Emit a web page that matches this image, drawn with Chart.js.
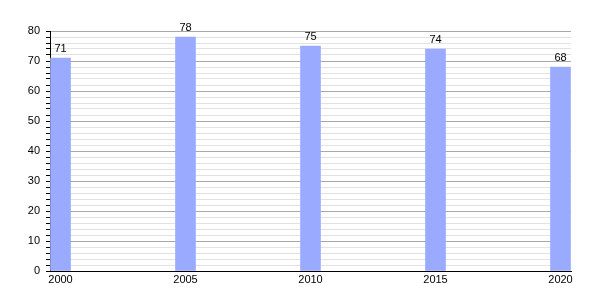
<!DOCTYPE html>
<html>
<head>
<meta charset="utf-8">
<script src="https://cdn.jsdelivr.net/npm/chart.js@4.4.0/dist/chart.umd.min.js"></script>
<style>
  html, body { margin: 0; padding: 0; background: #fff; }
  #wrap { width: 600px; height: 300px; }
</style>
</head>
<body>
<div id="wrap"><canvas id="chart"></canvas></div>
<script>
const years = [2000, 2005, 2010, 2015, 2020];
const values = [71, 78, 75, 74, 68];
const yTicks = [0, 10, 20, 30, 40, 50, 60, 70, 80];

const font = { family: "'Liberation Sans', Arial, sans-serif", size: 11 };

// value labels over each bar
const barLabels = {
  id: "barLabels",
  afterDatasetsDraw(chart) {
    const ctx = chart.ctx;
    const meta = chart.getDatasetMeta(0);
    ctx.save();
    ctx.font = `${font.size}px ${font.family}`;
    ctx.fillStyle = "#000";
    ctx.textAlign = "center";
    ctx.textBaseline = "bottom";
    meta.data.forEach((bar, i) => {
      ctx.fillText(String(values[i]), bar.x, bar.y - 4);
    });
    ctx.restore();
  },
};

new Chart(document.getElementById("chart"), {
  type: "bar",
  data: {
    datasets: [
      {
        data: years.map((y, i) => ({ x: y, y: values[i] })),
        backgroundColor: "#9aabff",
        borderWidth: 0,
        barThickness: 20,
      },
    ],
  },
  options: {
    responsive: true,
    maintainAspectRatio: false,
    animation: false,
    layout: { padding: { top: 31, right: 29, left: 0, bottom: 0 } },
    plugins: { legend: { display: false }, tooltip: { enabled: false } },
    scales: {
      x: {
        type: "linear",
        offset: false,
        min: 1999.58,
        max: 2020.42,
        afterBuildTicks: (axis) => {
          axis.ticks = years.map((v) => ({ value: v }));
        },
        afterFit: (axis) => {
          axis.height = 29;
        },
        ticks: {
          color: "#000",
          font,
          padding: 2,
          autoSkip: false,
          maxRotation: 0,
          callback: (v) => String(v),
        },
        grid: { display: false, drawTicks: false },
        border: { display: true, color: "#000", width: 1 },
      },
      y: {
        min: 0,
        max: 80,
        afterFit: (axis) => {
          axis.width = 50;
        },
        ticks: {
          stepSize: 2,
          maxTicksLimit: 60,
          autoSkip: false,
          color: "#000",
          font,
          padding: 6,
          callback: (v) => (yTicks.includes(v) ? String(v) : ""),
        },
        grid: {
          color: (c) => (c.tick && c.tick.value % 10 === 0 ? "#a8a8a8" : "#e2e2e2"),
          tickColor: "#000",
          tickLength: 4,
          lineWidth: 1,
        },
        border: { display: true, color: "#000", width: 1 },
      },
    },
  },
  plugins: [barLabels],
});
</script>
</body>
</html>
